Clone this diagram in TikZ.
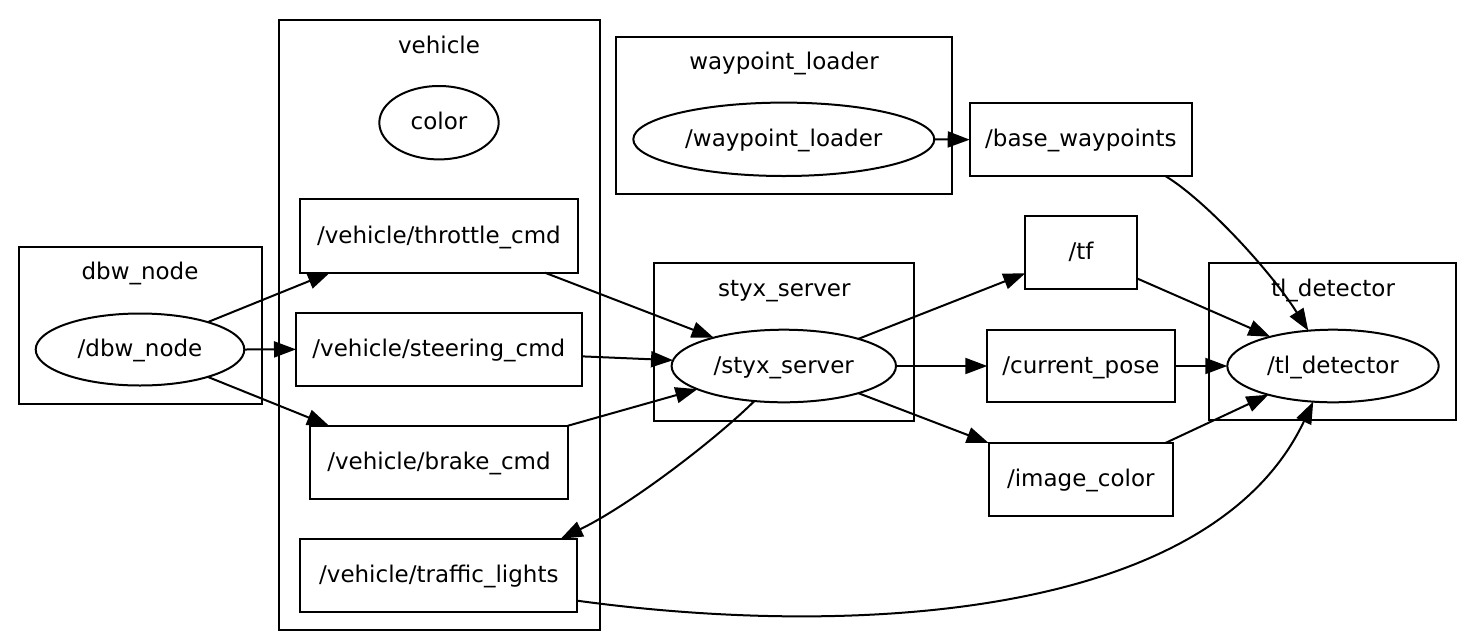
\documentclass[tikz,border=0pt]{standalone}
\usepackage{fontspec}
\setmainfont{DejaVu Sans}
\usetikzlibrary{shapes.geometric,arrows.meta}
\begin{document}
\begin{tikzpicture}[x=1pt,y=-1pt,
  lbl/.style={font=\fontsize{23}{27}\selectfont, text height=19pt, text depth=5pt, inner sep=0pt, outer sep=0pt},
  topic/.style={lbl, draw, rectangle, line width=2pt},
  rosnode/.style={lbl, draw, ellipse, line width=2pt},
  cluster/.style={draw, line width=2pt},
  edge/.style={-{Triangle[length=22pt,width=16pt]}, line width=2pt}]
\useasboundingbox[fill=white] (0,0) rectangle (1468,638);

% clusters
\draw[cluster] (18.5,246.7) rectangle (262,403.7);
\node[lbl] (ldbw) at (140,272.7) {dbw\_node};
\draw[cluster] (278.5,20) rectangle (599.5,630.3);
\node[lbl] (lveh) at (439,46) {vehicle};
\draw[cluster] (615.7,36.7) rectangle (952.3,194);
\node[lbl] (lwpl) at (784,62.7) {waypoint\_loader};
\draw[cluster] (654,263.3) rectangle (914,420.7);
\node[lbl] (lstyx) at (784.3,289.3) {styx\_server};
\draw[cluster] (1209.3,263.3) rectangle (1456,420.3);
\node[lbl] (ltl) at (1333,289.3) {tl\_detector};

% ros nodes
\node[rosnode, minimum width=208.6pt, minimum height=72pt] (dbw) at (140,349.5) {/dbw\_node};
\node[rosnode, minimum width=119.4pt, minimum height=73.4pt] (color) at (439,122.7) {color};
\node[rosnode, minimum width=301pt, minimum height=73.4pt] (wpl) at (783.8,139.3) {/waypoint\_loader};
\node[rosnode, minimum width=224.4pt, minimum height=72.6pt] (styx) at (783.8,366) {/styx\_server};
\node[rosnode, minimum width=211.4pt, minimum height=72.6pt] (tl) at (1333,366) {/tl\_detector};

% topics
\node[topic, minimum width=277.2pt, minimum height=73.4pt] (throttle) at (438.9,236) {/vehicle/throttle\_cmd};
\node[topic, minimum width=285.7pt, minimum height=73.3pt] (steering) at (438.85,349.35) {/vehicle/steering\_cmd};
\node[topic, minimum width=258pt, minimum height=73.3pt] (brake) at (439,462.35) {/vehicle/brake\_cmd};
\node[topic, minimum width=277pt, minimum height=73.3pt] (traffic) at (438.8,575.35) {/vehicle/traffic\_lights};
\node[topic, minimum width=222.3pt, minimum height=72.7pt] (base) at (1080.85,139.65) {/base\_waypoints};
\node[topic, minimum width=111.4pt, minimum height=73.3pt] (tf) at (1081,252.65) {/tf};
\node[topic, minimum width=187.4pt, minimum height=72.6pt] (cp) at (1081,366) {/current\_pose};
\node[topic, minimum width=184.3pt, minimum height=72.7pt] (img) at (1080.85,479.35) {/image\_color};

% edges
\draw[edge] (dbw.22.8) -- ([xshift=-109pt]throttle.south);
\draw[edge] (dbw.east) -- (steering.west);
\draw[edge] (dbw.-22.8) -- ([xshift=-110pt]brake.north);
\draw[edge] ([xshift=106pt]throttle.south) -- (styx.158);
\draw[edge] ([yshift=-7pt]steering.east) -- (styx.177);
\draw[edge] (brake.north east) -- (styx.195.5);
\draw[edge] (styx.230) .. controls (715,440) and (630,505) .. ([xshift=122pt]traffic.north);
\draw[edge] ([yshift=-25.35pt]traffic.east) .. controls (850,638) and (1210,620) .. (tl.241);
\draw[edge] (wpl.east) -- (base.west);
\draw[edge] ([xshift=84.5pt]base.south) .. controls (1205,200) and (1270,270) .. (tl.125);
\draw[edge] (styx.20.6) -- ([yshift=-20.65pt]tf.west);
\draw[edge] (styx.east) -- (cp.west);
\draw[edge] (styx.-20.6) -- (img.north west);
\draw[edge] ([yshift=-25.65pt]tf.east) -- (tl.155);
\draw[edge] (cp.east) -- (tl.west);
\draw[edge] ([xshift=84.5pt]img.north) -- (tl.204);
\end{tikzpicture}
\end{document}
